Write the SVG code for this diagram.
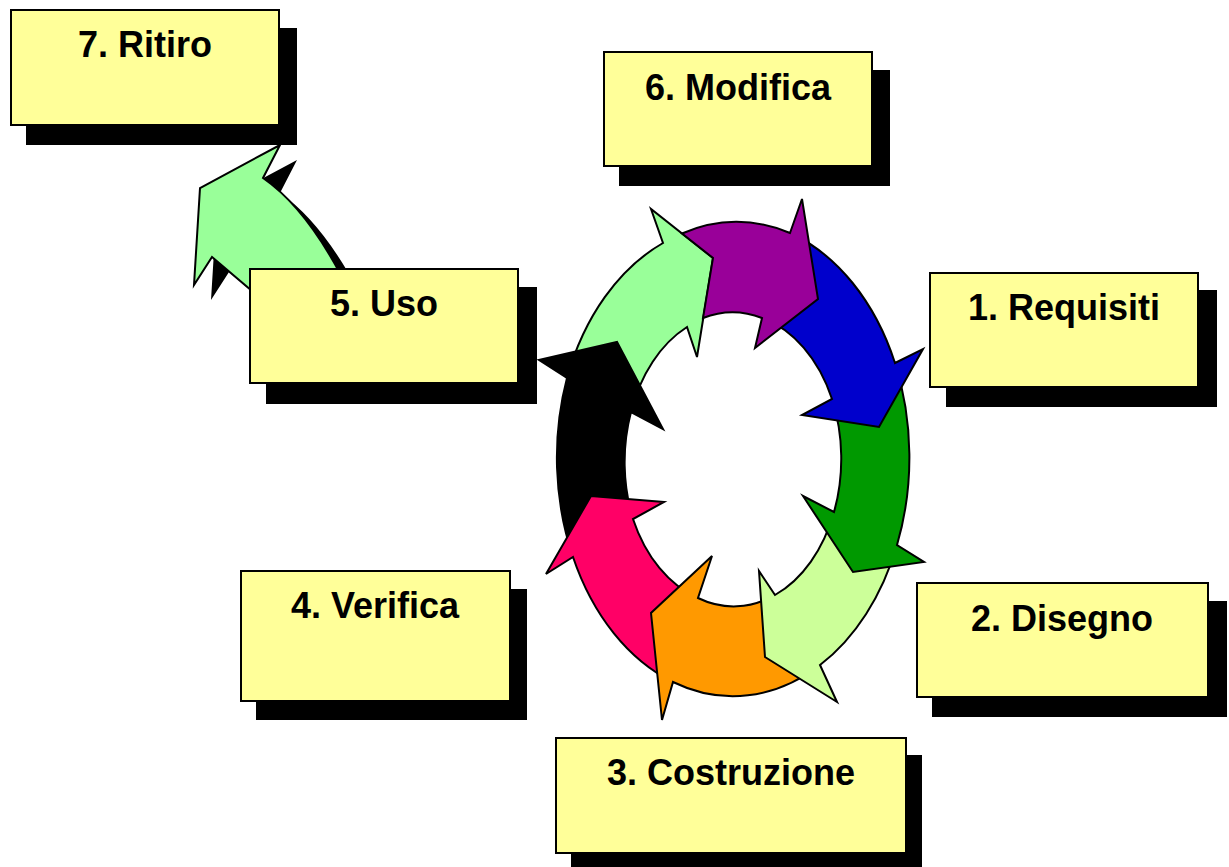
<svg xmlns="http://www.w3.org/2000/svg" width="1229" height="867" viewBox="0 0 1229 867">
<style>
.box{fill:#FFFF99;stroke:#000;stroke-width:2}
.sh{fill:#000}
.lbl{font-family:"Liberation Sans",Arial,sans-serif;font-weight:bold;font-size:36px;fill:#000;text-anchor:middle}
.arr{stroke:#000;stroke-width:2;stroke-linejoin:miter}
</style>
<rect width="1229" height="867" fill="#fff"/>
<g id="node-ritiro">
<rect class="sh" x="26" y="28" width="271" height="117"/>
<rect class="box" x="11" y="10" width="268" height="115"/>
<text class="lbl" x="145" y="57">7. Ritiro</text>
</g>
<g id="exit-arrow">
<path class="sh" transform="translate(17,15)" d="M280,145 L263,178 Q305,207 342,277 L345,300 L260,300 L252,291 L212,257 L194,285 L200,188 Z"/>
<path class="arr" fill="#99FF99" d="M280,145 L263,178 Q305,207 342,277 L345,300 L260,300 L252,291 L212,257 L194,285 L200,188 Z"/>
</g>
<g id="node-modifica">
<rect class="sh" x="619" y="70" width="271" height="116"/>
<rect class="box" x="604" y="52" width="268" height="114"/>
<text class="lbl" x="738" y="100">6. Modifica</text>
</g>
<g id="node-requisiti">
<rect class="sh" x="946" y="290" width="271" height="117"/>
<rect class="box" x="930" y="273" width="268" height="114"/>
<text class="lbl" x="1064" y="320">1. Requisiti</text>
</g>
<g id="node-disegno">
<rect class="sh" x="932" y="601" width="295" height="116"/>
<rect class="box" x="917" y="583" width="291" height="114"/>
<text class="lbl" x="1062" y="631">2. Disegno</text>
</g>
<g id="node-costruzione">
<rect class="sh" x="571" y="755" width="351" height="115"/>
<rect class="box" x="556" y="738" width="350" height="115"/>
<text class="lbl" x="731" y="785">3. Costruzione</text>
</g>
<g id="node-verifica">
<rect class="sh" x="256" y="589" width="271" height="131"/>
<rect class="box" x="241" y="571" width="269" height="130"/>
<text class="lbl" x="375" y="618">4. Verifica</text>
</g>
<g id="node-uso">
<rect class="sh" x="266" y="287" width="271" height="117"/>
<rect class="box" x="250" y="269" width="268" height="114"/>
<text class="lbl" x="384" y="316">5. Uso</text>
</g>
<g id="connectors">
<path class="arr" fill="#99FF99" d="M567,378 A176 238 0 0 1 663,243 L651,209 L713,258 L697,357 L687,327 A107 147 0 0 0 631,412 Z"/>
<path class="arr" fill="#000000" d="M573,557 A176 238 0 0 1 567,378 L539,360 L617,342 L663,429 L631,412 A107 147 0 0 0 633,519 Z"/>
<path class="arr" fill="#FF0066" d="M673,682 A176 238 0 0 1 573,557 L546,574 L591,496 L664,502 L633,519 A107 147 0 0 0 698,598 Z"/>
<path class="arr" fill="#FF9900" d="M820,665 A176 238 0 0 1 673,682 L662,720 L651,613 L712,556 L698,598 A107 147 0 0 0 775,595 Z"/>
<path class="arr" fill="#CCFF99" d="M897,545 A176 238 0 0 1 820,665 L837,702 L765,657 L759,571 L775,595 A107 147 0 0 0 834,512 Z"/>
<path class="arr" fill="#009900" d="M895,363 A176 238 0 0 1 897,545 L924,562 L853,572 L803,496 L834,512 A107 147 0 0 0 832,399 Z"/>
<path class="arr" fill="#0000CC" d="M790,233 A176 238 0 0 1 895,363 L923,349 L879,427 L802,415 L832,399 A107 147 0 0 0 762,318 Z"/>
<path class="arr" fill="#990099" d="M682,233.5 A176 238 0 0 1 790,233 L802,199 L818,299 L755,348 L762,318 A107 147 0 0 0 703,318 L713,258 Z"/>
</g>
</svg>
